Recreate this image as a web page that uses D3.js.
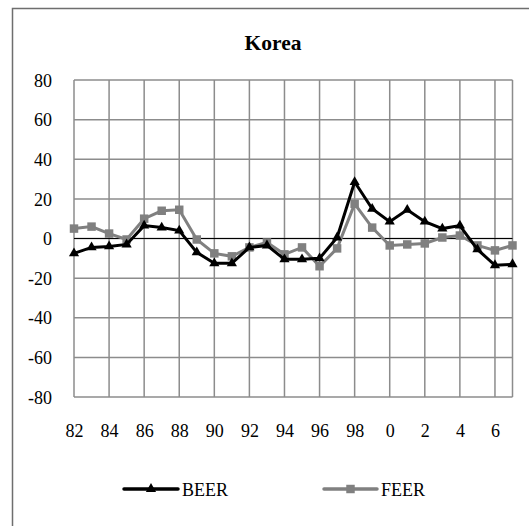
<!DOCTYPE html>
<html>
<head>
<meta charset="utf-8">
<script src="https://cdn.jsdelivr.net/npm/d3@7"></script>
<style>
  body { margin: 0; background: #fff; }
  svg text { font-family: "Liberation Serif", "Tinos", "Times New Roman", "DejaVu Serif", serif; fill: #000; }
</style>
</head>
<body>
<div id="chart"></div>
<script>
var width = 529;
var height = 526;

// years 1982..2007
var years = [82, 83, 84, 85, 86, 87, 88, 89, 90, 91, 92, 93, 94, 95, 96, 97, 98, 99, 0, 1, 2, 3, 4, 5, 6, 7];
var beer = [-7.5, -4.5, -4, -3, 6.5, 5.5, 4, -7, -12.5, -12.5, -4.5, -3.5, -10.5, -10.5, -10, 0.5, 28.5, 15, 8.5, 14.5, 8.5, 5, 6.5, -5.5, -13.5, -13];
var feer = [5, 6, 2.5, -0.5, 10, 14, 14.5, -0.5, -7.5, -9, -4.5, -2, -8, -4.5, -14, -5, 17.5, 5.5, -3.5, -3, -2.5, 0.5, 1.5, -3.5, -6, -3.5];
var yTicks = [-80, -60, -40, -20, 0, 20, 40, 60, 80];
var seriesNames = ["BEER", "FEER"];

var plot = {left: 74, right: 512.5, top: 80, bottom: 397};

var svg = d3.select("#chart")
    .append("svg")
    .attr("width", width)
    .attr("height", height);

// outer chart border (right and bottom sit outside the picture)
svg.append("rect")
    .attr("x", 12.5).attr("y", 8.5)
    .attr("width", 530).attr("height", 530)
    .attr("fill", "none")
    .attr("stroke", "#6e6e6e")
    .attr("stroke-width", 1.5);

var x = d3.scalePoint()
    .domain(d3.range(years.length))
    .range([plot.left, plot.right]);

var y = d3.scaleLinear()
    .domain([-80, 80])
    .range([plot.bottom, plot.top]);

// horizontal grid
svg.append("g").selectAll("line")
    .data(yTicks)
    .enter().append("line")
    .attr("x1", plot.left).attr("x2", plot.right)
    .attr("y1", function(d) { return y(d); })
    .attr("y2", function(d) { return y(d); })
    .attr("stroke", "#8c8c8c")
    .attr("stroke-width", 1.5);

// vertical grid every 2 years, plus right edge
var vIdx = d3.range(0, years.length, 2).concat([years.length - 1]);
svg.append("g").selectAll("line")
    .data(vIdx)
    .enter().append("line")
    .attr("x1", function(d) { return x(d); })
    .attr("x2", function(d) { return x(d); })
    .attr("y1", plot.top).attr("y2", plot.bottom)
    .attr("stroke", "#8c8c8c")
    .attr("stroke-width", 1.5);

// zero line
svg.append("line")
    .attr("x1", plot.left).attr("x2", plot.right)
    .attr("y1", y(0)).attr("y2", y(0))
    .attr("stroke", "#000")
    .attr("stroke-width", 1);

// y labels (plain hyphen for negatives, like the original)
var yAxis = d3.axisLeft(y).tickValues(yTicks).tickSize(0).tickPadding(22)
    .tickFormat(function(d) { return String(d); });
var gy = svg.append("g")
    .attr("transform", "translate(" + plot.left + ",0)")
    .call(yAxis);
gy.attr("font-family", null);
gy.select(".domain").remove();
gy.selectAll("text")
    .attr("font-size", 18)
    .attr("dy", "0.34em");

// x labels
var xAxis = d3.axisBottom(x)
    .tickValues(d3.range(0, years.length, 2))
    .tickFormat(function(i) { return years[i]; })
    .tickSize(0).tickPadding(27);
var gx = svg.append("g")
    .attr("transform", "translate(0," + plot.bottom + ")")
    .call(xAxis);
gx.attr("font-family", null);
gx.select(".domain").remove();
gx.selectAll("text")
    .attr("font-size", 18);

var line = d3.line()
    .x(function(d, i) { return x(i); })
    .y(function(d) { return y(d); });

var tri = d3.symbol().type(d3.symbolTriangle).size(45);
var sq = d3.symbol().type(d3.symbolSquare).size(72);

// FEER first (drawn under BEER)
svg.append("path")
    .datum(feer)
    .attr("d", line)
    .attr("fill", "none")
    .attr("stroke", "#808080")
    .attr("stroke-width", 3);
svg.append("g").selectAll("path")
    .data(feer)
    .enter().append("path")
    .attr("d", sq)
    .attr("transform", function(d, i) { return "translate(" + x(i) + "," + y(d) + ")"; })
    .attr("fill", "#808080");

svg.append("path")
    .datum(beer)
    .attr("d", line)
    .attr("fill", "none")
    .attr("stroke", "#000")
    .attr("stroke-width", 3);
svg.append("g").selectAll("path")
    .data(beer)
    .enter().append("path")
    .attr("d", tri)
    .attr("transform", function(d, i) { return "translate(" + x(i) + "," + y(d) + ")"; })
    .attr("fill", "#000");

// title
svg.append("text")
    .attr("x", 273).attr("y", 50)
    .attr("text-anchor", "middle")
    .attr("font-size", 21.5)
    .attr("font-weight", "bold")
    .text("Korea");

// legend
var legend = [
    {name: seriesNames[0], x0: 124, x1: 178, color: "#000", sym: tri},
    {name: seriesNames[1], x0: 324, x1: 377, color: "#808080", sym: sq}
];
var ly = 489;
var lg = svg.append("g").selectAll("g")
    .data(legend)
    .enter().append("g");
lg.append("line")
    .attr("x1", function(d) { return d.x0; })
    .attr("x2", function(d) { return d.x1; })
    .attr("y1", ly).attr("y2", ly)
    .attr("stroke", function(d) { return d.color; })
    .attr("stroke-width", 3.5)
    .attr("stroke-linecap", "round");
lg.append("path")
    .attr("d", function(d) { return d.sym(); })
    .attr("transform", function(d) { return "translate(" + (d.x0 + d.x1) / 2 + "," + ly + ")"; })
    .attr("fill", function(d) { return d.color; });
lg.append("text")
    .attr("x", function(d) { return d.x1 + 4; })
    .attr("y", ly + 6.5)
    .attr("font-size", 18)
    .text(function(d) { return d.name; });
</script>
</body>
</html>
